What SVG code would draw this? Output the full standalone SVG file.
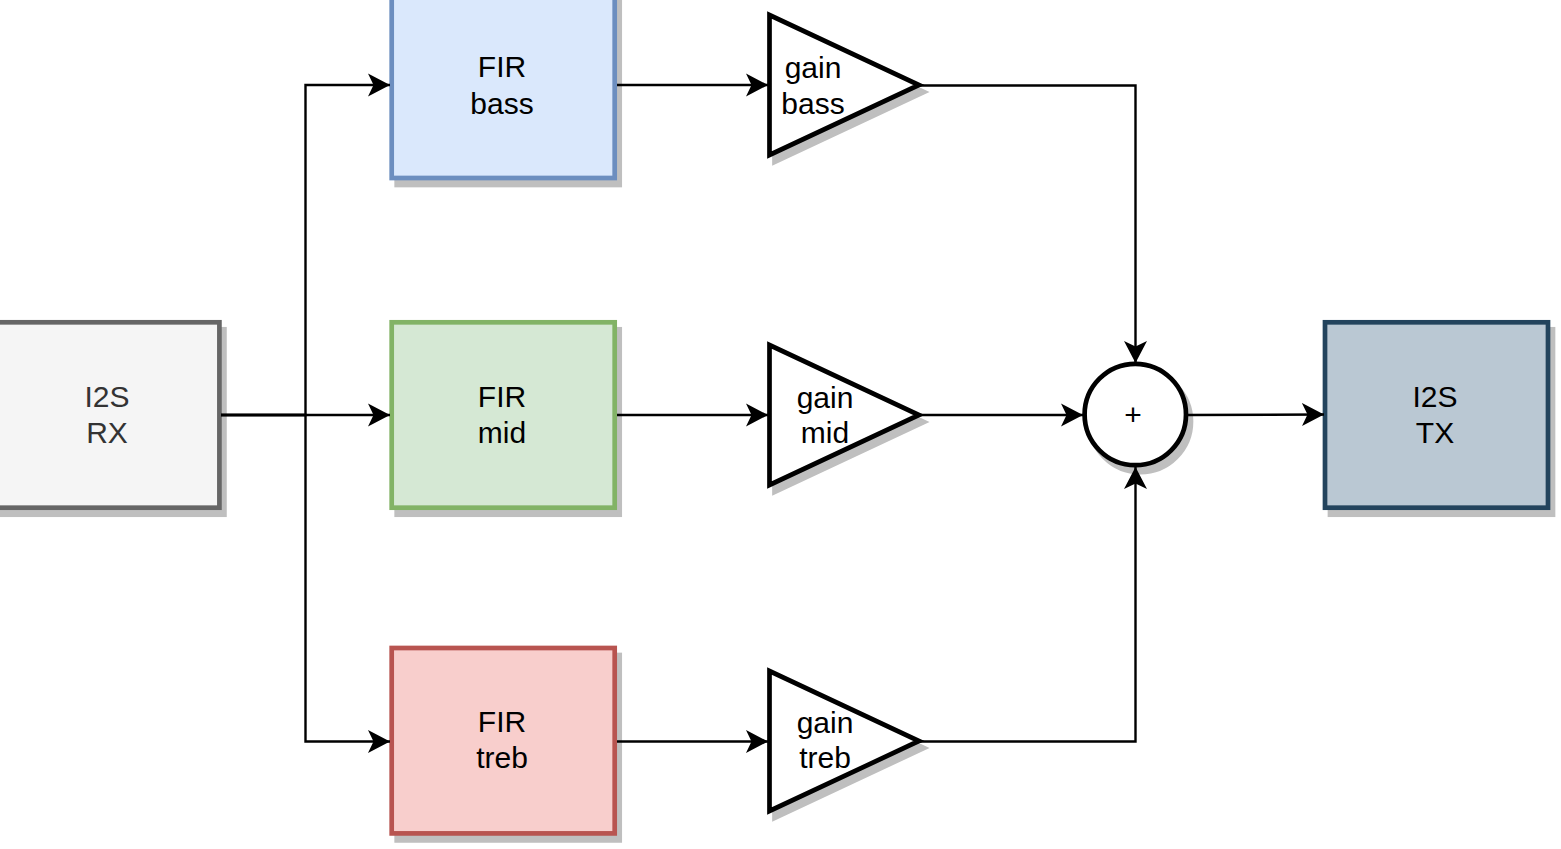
<svg xmlns="http://www.w3.org/2000/svg" width="1561" height="849" viewBox="0 0 1561 849">
<style>
text{font-family:"Liberation Sans",Arial,sans-serif;font-size:30px;text-anchor:middle;fill:#000}
.shadow{fill:#bfbfbf;stroke:#bfbfbf;stroke-width:4.7}
.node{stroke-width:4.7;stroke-linejoin:miter}
.edge{fill:none;stroke:#000;stroke-width:2.4;marker-end:url(#arrow)}
</style>
<defs>
<marker id="arrow" markerUnits="userSpaceOnUse" markerWidth="23" markerHeight="24" refX="22" refY="12" orient="auto">
<path d="M0,0.5 L22,12 L0,23.5 L5.5,12 Z" fill="#000"/>
</marker>
</defs>
<rect width="1561" height="849" fill="#fff"/>
<g id="i2s-rx">
<rect class="shadow" x="-6" y="329.3" width="230.4" height="185.4"/>
<rect class="node" x="-9" y="322.3" width="228.4" height="185.4" fill="#f5f5f5" stroke="#666666"/>
<text x="107" y="407" style="fill:#333333">I2S</text>
<text x="107" y="443" style="fill:#333333">RX</text>
</g>
<g id="fir-bass">
<rect class="shadow" x="396.7" y="-10" width="223" height="195"/>
<rect class="node" x="391.7" y="-17" width="223" height="195" fill="#dae8fc" stroke="#6c8ebf"/>
<text x="502" y="77">FIR</text>
<text x="502" y="114">bass</text>
</g>
<g id="fir-mid">
<rect class="shadow" x="396.7" y="329.3" width="223" height="185.4"/>
<rect class="node" x="391.7" y="322.3" width="223" height="185.4" fill="#d5e8d4" stroke="#82b366"/>
<text x="502" y="407">FIR</text>
<text x="502" y="443">mid</text>
</g>
<g id="fir-treb">
<rect class="shadow" x="396.7" y="655" width="223" height="185.4"/>
<rect class="node" x="391.7" y="648" width="223" height="185.4" fill="#f8cecc" stroke="#b85450"/>
<text x="502" y="732">FIR</text>
<text x="502" y="768">treb</text>
</g>
<g id="gain-bass">
<path class="shadow" d="M774.5,22 V162 L924,92 Z"/>
<path class="node" d="M769.5,15 V155 L919,85 Z" fill="#fff" stroke="#000"/>
<text x="813" y="78">gain</text>
<text x="813" y="114">bass</text>
</g>
<g id="gain-mid">
<path class="shadow" d="M774.5,352 V492 L924,422 Z"/>
<path class="node" d="M769.5,345 V485 L919,415 Z" fill="#fff" stroke="#000"/>
<text x="825" y="408">gain</text>
<text x="825" y="443">mid</text>
</g>
<g id="gain-treb">
<path class="shadow" d="M774.5,678 V818 L924,748 Z"/>
<path class="node" d="M769.5,671 V811 L919,741 Z" fill="#fff" stroke="#000"/>
<text x="825" y="733">gain</text>
<text x="825" y="768">treb</text>
</g>
<g id="sum">
<circle class="shadow" cx="1140.3" cy="421.5" r="50.7"/>
<circle class="node" cx="1135.3" cy="414.5" r="50.7" fill="#fff" stroke="#000"/>
<text x="1133" y="425">+</text>
</g>
<g id="i2s-tx">
<rect class="shadow" x="1330" y="329.3" width="223" height="185.4"/>
<rect class="node" x="1325" y="322.3" width="223" height="185.4" fill="#bac8d3" stroke="#23445d"/>
<text x="1435" y="407">I2S</text>
<text x="1435" y="443">TX</text>
</g>
<g id="connectors">
<path class="edge" d="M221,415 H305.5 V85 H390"/>
<path class="edge" d="M221,415 H390"/>
<path class="edge" d="M221,415 H305.5 V741.5 H390"/>
<path class="edge" d="M617,85 H768"/>
<path class="edge" d="M617,415 H768"/>
<path class="edge" d="M617,741.5 H768"/>
<path class="edge" d="M920,85.5 H1135.5 V363"/>
<path class="edge" d="M920,415 H1083"/>
<path class="edge" d="M920,741.5 H1135.5 V467"/>
<path class="edge" d="M1187,415 L1324,414.5"/>
</g>
</svg>
